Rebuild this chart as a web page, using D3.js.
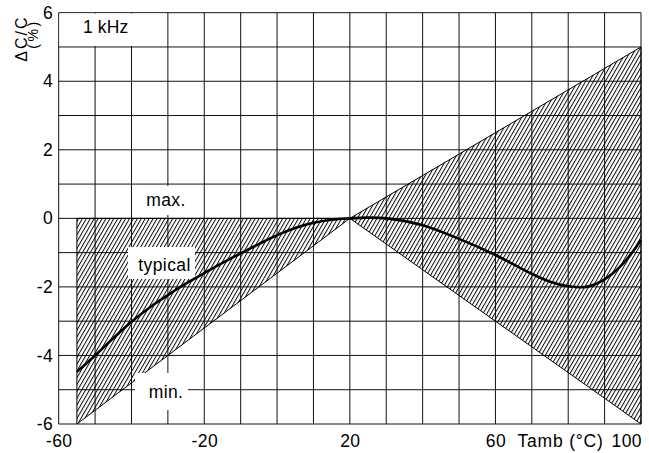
<!DOCTYPE html>
<html lang="en">
  <head>
    <meta charset="UTF-8" />
    <title>Capacitance change vs temperature</title>
    <script src="https://cdn.jsdelivr.net/npm/d3@7"></script>
    <style>
      body {
        padding: 0;
        margin: 0;
        background: #fff;
      }
      svg text {
        font-family: "Liberation Sans", Arial, Helvetica, sans-serif;
        font-size: 17.5px;
        letter-spacing: 0.4px;
        fill: #000;
      }
    </style>
  </head>
  <body>
    <svg id="chart" width="649" height="453"></svg>

    <script>
      // tick labels
      const xTickLabels = [-60, -20, 20, 60, 100];
      const yTickLabels = [-6, -4, -2, 0, 2, 4, 6];

      // tolerance band (max / min)
      const bandT = [-55, 20, 100];
      const bandMax = [0, 0, 5];
      const bandMin = [-6, 0, -6];

      // typical curve
      const typicalT = [-55, -50, -45, -40, -35, -30, -25, -20, -15, -10, -5, 0, 5, 10, 15, 20, 25, 30, 40, 50, 60, 70, 75, 80, 85, 90, 95, 100];
      const typicalDC = [-4.48, -4.0, -3.5, -3.02, -2.6, -2.24, -1.9, -1.6, -1.3, -1.02, -0.75, -0.49, -0.28, -0.13, -0.04, 0, 0.02, 0, -0.2, -0.6, -1.07, -1.62, -1.85, -1.98, -2.0, -1.78, -1.33, -0.64];

      const svg = d3.select("#chart");

      const x = d3.scaleLinear().domain([-60, 100]).range([58.7, 641]);
      const y = d3.scaleLinear().domain([-6, 6]).range([424, 12.7]);

      // hatch pattern
      svg
        .append("defs")
        .append("pattern")
        .attr("id", "hatch")
        .attr("patternUnits", "userSpaceOnUse")
        .attr("width", 3.4)
        .attr("height", 10)
        .attr("patternTransform", "rotate(30)")
        .append("line")
        .attr("x1", 0.5)
        .attr("y1", 0)
        .attr("x2", 0.5)
        .attr("y2", 10)
        .attr("stroke", "#000")
        .attr("stroke-width", 0.95);

      // grid
      const grid = svg.append("g").attr("stroke", "#111").attr("stroke-width", 1);
      grid
        .selectAll("line.vx")
        .data(d3.range(-60, 101, 10))
        .enter()
        .append("line")
        .attr("x1", (d) => x(d))
        .attr("x2", (d) => x(d))
        .attr("y1", y(6))
        .attr("y2", y(-6));
      grid
        .selectAll("line.hy")
        .data(d3.range(-6, 7, 1))
        .enter()
        .append("line")
        .attr("x1", x(-60))
        .attr("x2", x(100))
        .attr("y1", (d) => y(d))
        .attr("y2", (d) => y(d));

      // hatched tolerance band
      const band = bandT.map((t, i) => ({ t: t, lo: bandMin[i], hi: bandMax[i] }));
      const area = d3
        .area()
        .x((d) => x(d.t))
        .y0((d) => y(d.lo))
        .y1((d) => y(d.hi));
      svg
        .append("path")
        .datum(band)
        .attr("d", area)
        .attr("fill", "url(#hatch)")
        .attr("stroke", "#000")
        .attr("stroke-width", 1);

      // white boxes behind the labels
      const boxes = [
        [59.5, 13.5, 107, 32.5],
        [143, 186, 47, 29],
        [128, 247, 67, 32],
        [135, 373, 53, 37],
      ];
      svg
        .selectAll("rect.box")
        .data(boxes)
        .enter()
        .append("rect")
        .attr("x", (d) => d[0])
        .attr("y", (d) => d[1])
        .attr("width", (d) => d[2])
        .attr("height", (d) => d[3])
        .attr("fill", "#fff");

      // typical curve
      const line = d3
        .line()
        .x((d, i) => x(typicalT[i]))
        .y((d) => y(d))
        .curve(d3.curveCatmullRom.alpha(0.5));
      svg
        .append("path")
        .datum(typicalDC)
        .attr("d", line)
        .attr("fill", "none")
        .attr("stroke", "#000")
        .attr("stroke-width", 2.6);

      // axes (plain hyphen for negative numbers, as in the original)
      const plain = (d) => String(d);

      const xAxis = svg
        .append("g")
        .attr("transform", "translate(0," + y(-6) + ")")
        .call(d3.axisBottom(x).tickValues(xTickLabels).tickFormat(plain).tickSize(0).tickPadding(11));
      xAxis.select(".domain").remove();
      xAxis.attr("font-family", null).attr("font-size", null);
      xAxis
        .selectAll(".tick text")
        .filter((d) => d === 100)
        .attr("text-anchor", "end")
        .attr("x", 0.5);

      const yAxis = svg
        .append("g")
        .attr("transform", "translate(" + x(-60) + ",0)")
        .call(d3.axisLeft(y).tickValues(yTickLabels).tickFormat(plain).tickSize(0).tickPadding(5.5));
      yAxis.select(".domain").remove();
      yAxis.attr("font-family", null).attr("font-size", null);

      // texts
      svg.append("text").attr("x", 517.5).attr("y", 447).style("letter-spacing", "0.8px").text("Tamb (°C)");
      svg.append("text").attr("x", 83).attr("y", 33).style("letter-spacing", "0.1px").text("1 kHz");
      svg.append("text").attr("x", 166).attr("y", 206).attr("text-anchor", "middle").text("max.");
      svg.append("text").attr("x", 164.5).attr("y", 271).attr("text-anchor", "middle").text("typical");
      svg.append("text").attr("x", 166).attr("y", 398).attr("text-anchor", "middle").text("min.");
      svg
        .append("text")
        .attr("transform", "translate(27.3,38.5) rotate(-90)")
        .attr("text-anchor", "middle")
        .style("font-size", "16px")
        .style("letter-spacing", "2px")
        .text("ΔC/C");
      svg
        .append("text")
        .attr("transform", "translate(37.5,34) rotate(-90)")
        .attr("text-anchor", "middle")
        .style("font-size", "14px")
        .style("letter-spacing", "2.5px")
        .text("(%)");
    </script>
  </body>
</html>
